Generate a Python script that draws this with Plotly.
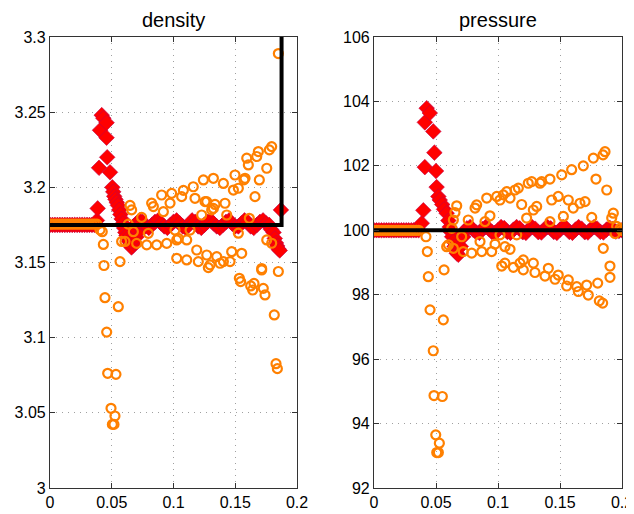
import plotly.graph_objects as go

# ---- density panel ----
# red diamonds (scheme A)
dens_red_x = [0, 0.002, 0.004, 0.006, 0.008, 0.010, 0.012, 0.014, 0.016, 0.018,
              0.020, 0.022, 0.024, 0.026, 0.028, 0.030, 0.032, 0.034, 0.036, 0.038,
              0.0386, 0.0397, 0.0405, 0.0419, 0.0432, 0.0458, 0.0458, 0.0463, 0.0486,
              0.0505, 0.0512, 0.052, 0.053, 0.054, 0.055, 0.056, 0.057, 0.058, 0.059,
              0.060, 0.061, 0.062, 0.063, 0.064, 0.065, 0.066, 0.067, 0.068, 0.070, 0.072,
              0.0675, 0.070, 0.0725, 0.075, 0.0775, 0.080, 0.0825, 0.085, 0.0875, 0.090,
              0.0925, 0.095, 0.0975, 0.100, 0.1025, 0.105, 0.1075, 0.110, 0.1125, 0.115,
              0.1175, 0.120, 0.1225, 0.125, 0.1275, 0.130, 0.1325, 0.135, 0.1375, 0.140,
              0.1425, 0.145, 0.1475, 0.150, 0.1525, 0.155, 0.1575, 0.160, 0.1625, 0.165,
              0.1675, 0.170, 0.1725, 0.175, 0.1775, 0.179, 0.181, 0.182, 0.183, 0.184,
              0.185, 0.186, 0.187]
dens_red_y = [3.175, 3.175, 3.175, 3.175, 3.175, 3.175, 3.175, 3.175, 3.175, 3.175,
              3.175, 3.175, 3.175, 3.175, 3.175, 3.175, 3.175, 3.175, 3.175, 3.178,
              3.186, 3.213, 3.238, 3.248, 3.246, 3.243, 3.233, 3.220, 3.210,
              3.200, 3.197, 3.194, 3.192, 3.190, 3.188, 3.185, 3.182, 3.179, 3.176,
              3.173, 3.170, 3.168, 3.166, 3.164, 3.162, 3.160, 3.161, 3.163, 3.167, 3.171,
              3.174, 3.176, 3.178, 3.177, 3.174, 3.173, 3.175, 3.177, 3.178, 3.176,
              3.174, 3.173, 3.175, 3.177, 3.178, 3.176, 3.174, 3.173, 3.175, 3.178,
              3.177, 3.174, 3.173, 3.175, 3.177, 3.178, 3.176, 3.174, 3.173, 3.175,
              3.177, 3.178, 3.176, 3.174, 3.174, 3.176, 3.178, 3.177, 3.174, 3.173,
              3.175, 3.177, 3.178, 3.176, 3.175, 3.172, 3.170, 3.166, 3.163, 3.161,
              3.159, 3.158, 3.185]

# orange circles (scheme B)
dens_orange_x = [0, 0.002, 0.004, 0.006, 0.008, 0.010, 0.012, 0.014, 0.016, 0.018,
                 0.020, 0.022, 0.024, 0.026, 0.028, 0.030, 0.032, 0.034, 0.036, 0.038,
                 0.0405, 0.0423, 0.0432, 0.0437, 0.0445, 0.0459, 0.0467, 0.0494, 0.0505,
                 0.0518, 0.0526, 0.0534, 0.0553, 0.0567, 0.058, 0.0607, 0.0634, 0.0648,
                 0.0661, 0.0675, 0.0702, 0.0742, 0.0783, 0.0796, 0.0823, 0.0837, 0.0864,
                 0.0904, 0.0918, 0.0945, 0.0972, 0.0985, 0.1012, 0.1026, 0.1026, 0.1039,
                 0.1066, 0.108, 0.1107, 0.1107, 0.1134, 0.116, 0.1174, 0.1188, 0.1201,
                 0.1228, 0.1242, 0.1255, 0.1269, 0.1269, 0.1282, 0.1296, 0.1309, 0.1323,
                 0.1323, 0.1336, 0.135, 0.1377, 0.1404, 0.1404, 0.1417, 0.1431, 0.1458,
                 0.1471, 0.1485, 0.1498, 0.1525, 0.1525, 0.1533, 0.1544, 0.1552, 0.157,
                 0.1579, 0.1593, 0.1606, 0.1614, 0.1625, 0.1641, 0.1652, 0.166, 0.1674,
                 0.1687, 0.1695, 0.1714, 0.1714, 0.1727, 0.1741, 0.1755, 0.1755, 0.1776,
                 0.1795, 0.1795, 0.1816, 0.183, 0.1841, 0.1849, 0.1849]
dens_orange_y = [3.1755, 3.1755, 3.1755, 3.1755, 3.1755, 3.1755, 3.1755, 3.1755, 3.1755, 3.1755,
                 3.1755, 3.1755, 3.1755, 3.1755, 3.1755, 3.1755, 3.1755, 3.1755, 3.1755, 3.1755,
                 3.1717, 3.1705, 3.162, 3.148, 3.1266, 3.1037, 3.0763, 3.053, 3.0423,
                 3.0423, 3.0479, 3.0756, 3.1206, 3.1506, 3.164, 3.164, 3.1755, 3.188,
                 3.185, 3.1705, 3.1627, 3.180, 3.1617, 3.1694, 3.1895, 3.1872, 3.1617,
                 3.1949, 3.1838, 3.1627, 3.1895, 3.196, 3.1716, 3.1528, 3.165, 3.166,
                 3.1938, 3.198, 3.1517, 3.165, 3.1716, 3.2004, 3.1927, 3.1583, 3.1506,
                 3.1816, 3.2049, 3.1905, 3.1905, 3.155, 3.1466, 3.1484, 3.185, 3.206,
                 3.186, 3.1886, 3.1539, 3.1495, 3.2026, 3.1506, 3.1894, 3.1816, 3.1506,
                 3.1572, 3.1982, 3.2082, 3.1695, 3.1994, 3.1395, 3.1373, 3.1561, 3.205,
                 3.206, 3.2194, 3.2149, 3.1794, 3.1344, 3.1317, 3.1361, 3.1938, 3.2205,
                 3.2238, 3.2049, 3.1450, 3.146, 3.1328, 3.1284, 3.2127, 3.165, 3.2249,
                 3.2271, 3.1628, 3.1151, 3.0827, 3.0794, 3.144, 3.289]

# black reference (scheme C)
dens_ref_x = [0, 0.1875, 0.1875]
dens_ref_y = [3.175, 3.175, 3.5]

# ---- pressure panel ----
pres_red_x = [0, 0.002, 0.004, 0.006, 0.008, 0.010, 0.012, 0.014, 0.016, 0.018,
              0.020, 0.022, 0.024, 0.026, 0.028, 0.030, 0.032, 0.034, 0.036,
              0.0385, 0.0398, 0.041, 0.041, 0.0425, 0.045, 0.0478, 0.0487, 0.050,
              0.0505, 0.0519, 0.053, 0.055, 0.0565, 0.0586, 0.060, 0.061, 0.062, 0.063,
              0.064, 0.065, 0.0667, 0.068, 0.070, 0.072,
              0.0725, 0.075, 0.0775, 0.080, 0.0825, 0.085, 0.0875, 0.090, 0.0925, 0.095,
              0.0975, 0.100, 0.1025, 0.105, 0.1075, 0.110, 0.1125, 0.115, 0.1175, 0.120,
              0.1225, 0.125, 0.1275, 0.130, 0.1325, 0.135, 0.1375, 0.140, 0.1425, 0.145,
              0.1475, 0.150, 0.1525, 0.155, 0.1575, 0.160, 0.1625, 0.165, 0.1675, 0.170,
              0.1725, 0.175, 0.1775, 0.180, 0.1825, 0.185, 0.1875, 0.190, 0.1925, 0.195,
              0.1975, 0.200]
pres_red_y = [100, 100, 100, 100, 100, 100, 100, 100, 100, 100,
              100, 100, 100, 100, 100, 100, 100, 100, 100,
              100.22, 100.62, 101.96, 103.35, 103.79, 103.64, 103.07, 102.41, 101.84,
              101.34, 101.05, 100.94, 100.8, 100.65, 100.53, 100.3, 100.1, 99.95, 99.8,
              99.65, 99.5, 99.29, 99.24, 99.5, 99.8,
              99.95, 100.06, 100.1, 100.02, 99.93, 99.92, 100.04, 100.1, 100.05, 99.95,
              99.92, 100.0, 100.1, 100.07, 99.95, 99.92, 100.02, 100.1, 100.06, 99.94,
              99.92, 100.03, 100.1, 100.05, 99.94, 99.93, 100.04, 100.1, 100.06, 99.95,
              99.92, 100.02, 100.1, 100.07, 99.95, 99.92, 100.02, 100.1, 100.05, 99.94,
              99.93, 100.04, 100.1, 100.05, 99.95, 99.93, 100.02, 100.08, 100.04, 99.96,
              99.98, 100.0]

pres_orange_x = [0, 0.002, 0.004, 0.006, 0.008, 0.010, 0.012, 0.014, 0.016, 0.018,
                 0.020, 0.022, 0.024, 0.026, 0.028, 0.030, 0.032, 0.034, 0.036,
                 0.0419, 0.043, 0.0438, 0.0452, 0.0478, 0.0484, 0.0498, 0.0506, 0.0519,
                 0.0527, 0.0551, 0.0559, 0.0565, 0.0586, 0.060, 0.0627, 0.064, 0.064,
                 0.0653, 0.0667, 0.0707, 0.072, 0.076, 0.0788, 0.0815, 0.0828, 0.0855,
                 0.0869, 0.0895, 0.0909, 0.0935, 0.0949, 0.0976, 0.099, 0.1016, 0.1016,
                 0.103, 0.1043, 0.1056, 0.1056, 0.107, 0.1097, 0.1097, 0.1124, 0.1137,
                 0.1151, 0.1164, 0.1177, 0.1191, 0.1204, 0.1204, 0.1231, 0.1244, 0.1272,
                 0.1285, 0.1285, 0.1298, 0.1312, 0.1339, 0.1352, 0.1379, 0.1406, 0.1419,
                 0.1419, 0.1433, 0.146, 0.1486, 0.1486, 0.1514, 0.1527, 0.1554, 0.1567,
                 0.1567, 0.1594, 0.1607, 0.1635, 0.1648, 0.1661, 0.1688, 0.1702, 0.1715,
                 0.1728, 0.1756, 0.1769, 0.179, 0.1804, 0.1817, 0.1844, 0.1847, 0.1849,
                 0.1863, 0.1877, 0.1903, 0.1903, 0.1917, 0.193, 0.1944, 0.1957, 0.1984,
                 0.1995]
pres_orange_y = [100, 100, 100, 100, 100, 100, 100, 100, 100, 100,
                 100, 100, 100, 100, 100, 100, 100, 100, 100,
                 99.80, 99.34, 98.56, 97.53, 96.26, 94.87, 93.65, 93.10, 93.10,
                 93.39, 94.84, 97.22, 98.77, 99.49, 99.55, 100.06, 100.32, 99.44,
                 100.55, 100.76, 99.80, 99.34, 100.32, 99.29, 100.69, 100.79, 99.65,
                 99.34, 100.27, 101.0, 100.45, 99.34, 99.57, 101.05, 100.94, 99.86,
                 98.89, 101.1, 99.49, 98.98, 101.2, 101.0, 99.41, 98.85, 101.25,
                 99.86, 101.31, 98.98, 100.8, 98.77, 99.08, 100.38, 101.46, 101.51,
                 100.63, 98.98, 98.69, 100.74, 101.46, 101.51, 98.58, 98.82, 101.59,
                 100.27, 100.94, 98.48, 101.05, 98.61, 101.72, 100.43, 98.27, 100.94,
                 98.46, 101.88, 100.69, 98.25, 98.10, 100.84, 102.0, 100.89, 98.30,
                 97.99, 100.4, 102.24, 101.59, 98.36, 97.81, 97.74, 102.34, 99.44,
                 102.44, 101.25, 98.89, 98.54, 100.38, 100.53, 99.9, 100.12, 100.06,
                 100.0]

pres_ref_x = [0, 0.2]
pres_ref_y = [100, 100]

RED = '#ff0000'
ORANGE = '#ff8000'
FONT = 'Liberation Sans, Arial, sans-serif'


def add_panel(fig, rx, ry, ox, oy, kx, ky, xa, ya):
    fig.add_trace(go.Scatter(x=rx, y=ry, mode='markers', xaxis=xa, yaxis=ya,
                             marker=dict(symbol='diamond', size=12, color=RED,
                                         line=dict(width=0.6, color='#c0004a')),
                             showlegend=False))
    fig.add_trace(go.Scatter(x=ox, y=oy, mode='markers', xaxis=xa, yaxis=ya,
                             marker=dict(symbol='circle-open', size=9, color=ORANGE,
                                         line=dict(width=2.2, color=ORANGE)),
                             showlegend=False))
    fig.add_trace(go.Scatter(x=kx, y=ky, mode='lines', xaxis=xa, yaxis=ya,
                             line=dict(color='black', width=4),
                             showlegend=False))


fig = go.Figure()
add_panel(fig, dens_red_x, dens_red_y, dens_orange_x, dens_orange_y,
          dens_ref_x, dens_ref_y, 'x', 'y')
add_panel(fig, pres_red_x, pres_red_y, pres_orange_x, pres_orange_y,
          pres_ref_x, pres_ref_y, 'x2', 'y2')

ax_style = dict(showline=True, linecolor='#333333', linewidth=1.2, mirror='ticks',
                ticks='inside', ticklen=5, tickcolor='#333333', tickwidth=1,
                showgrid=True, gridcolor='#a0a0a0', griddash='1px,5px', gridwidth=1,
                zeroline=False, automargin=False,
                tickfont=dict(size=16, color='black', family=FONT))

x_ticks = [0, 0.05, 0.1, 0.15, 0.2]
x_labels = ['0', '0.05', '0.1', '0.15', '0.2']
dens_ticks = [3, 3.05, 3.1, 3.15, 3.2, 3.25, 3.3]
dens_labels = ['3', '3.05', '3.1', '3.15', '3.2', '3.25', '3.3']
pres_ticks = [92, 94, 96, 98, 100, 102, 104, 106]

# the page body has an 8px margin, so the figure is sized to fit the window
W, H = 626, 506

fig.update_layout(
    width=W, height=H,
    margin=dict(l=0, r=0, t=0, b=0),
    paper_bgcolor='white', plot_bgcolor='white',
    font=dict(family=FONT, color='black'),
    xaxis=dict(domain=[42 / W, 289 / W], range=[0, 0.2], tickvals=x_ticks,
               ticktext=x_labels, anchor='y', **ax_style),
    yaxis=dict(domain=[1 - 480 / H, 1 - 29 / H], range=[3, 3.3], tickvals=dens_ticks,
               ticktext=dens_labels, anchor='x', **ax_style),
    xaxis2=dict(domain=[366 / W, 614 / W], range=[0, 0.2], tickvals=x_ticks,
                ticktext=x_labels, anchor='y2', **ax_style),
    yaxis2=dict(domain=[1 - 480 / H, 1 - 29 / H], range=[92, 106], tickvals=pres_ticks,
                anchor='x2', **ax_style),
    annotations=[
        dict(text='density', x=165.5 / W, y=1 - 12 / H, xref='paper', yref='paper',
             xanchor='center', yanchor='middle',
             showarrow=False, font=dict(size=20, family=FONT)),
        dict(text='pressure', x=490 / W, y=1 - 12 / H, xref='paper', yref='paper',
             xanchor='center', yanchor='middle',
             showarrow=False, font=dict(size=20, family=FONT)),
    ],
)

fig.write_html("out.html")
